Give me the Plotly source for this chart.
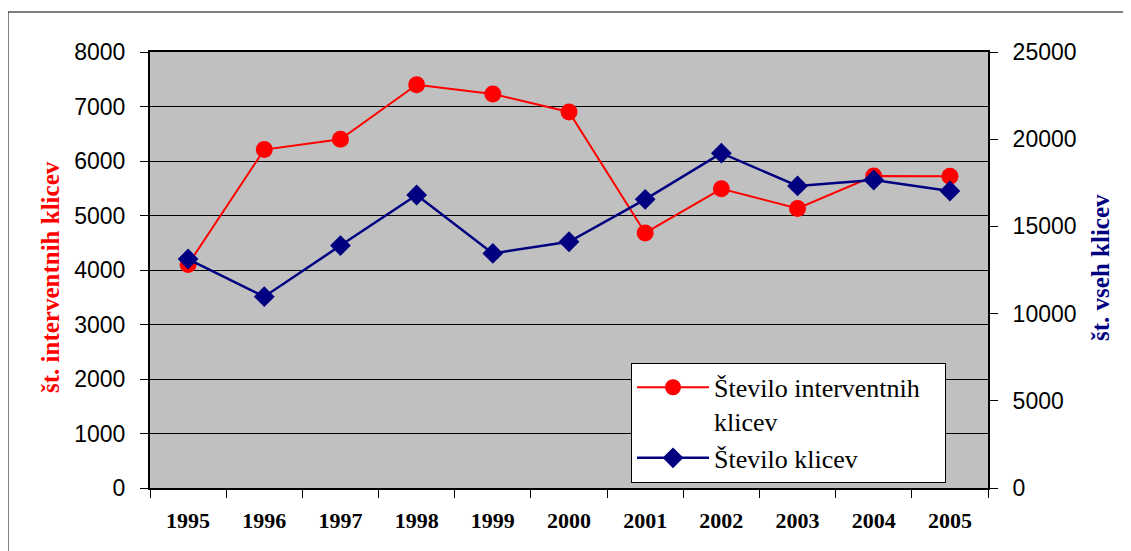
import plotly.graph_objects as go

years = ["1995", "1996", "1997", "1998", "1999", "2000", "2001", "2002", "2003", "2004", "2005"]
interventni = [4100, 6210, 6400, 7400, 7230, 6900, 4680, 5490, 5130, 5725, 5720]
vsi_klici = [13130, 10970, 13900, 16800, 13450, 14120, 16550, 19200, 17320, 17660, 17030]

name_int = "Število interventnih&nbsp;&nbsp;&nbsp;<br>klicev"
name_all = "Število klicev"

fig = go.Figure()
fig.add_trace(go.Scatter(
    x=years, y=interventni, name=name_int, mode="lines+markers",
    line=dict(color="#ff0000", width=2),
    marker=dict(symbol="circle", size=17, color="#ff0000"),
    yaxis="y"))
fig.add_trace(go.Scatter(
    x=years, y=vsi_klici, name=name_all, mode="lines+markers",
    line=dict(color="#000080", width=2.5),
    marker=dict(symbol="diamond", size=16, color="#000080"),
    yaxis="y2"))

# the page adds an 8px body margin; plot area on screen: x 150..988, y 52..488
fig.update_layout(
    width=1131, height=551,
    margin=dict(l=142, r=151, t=44, b=71),
    paper_bgcolor="white", plot_bgcolor="#c0c0c0",
    showlegend=True,
    legend=dict(x=0.574, y=0.287, xanchor="left", yanchor="top",
                bgcolor="white", bordercolor="black", borderwidth=1,
                font=dict(family="Liberation Serif", size=26, color="black"),
                itemwidth=72, tracegroupgap=0, valign="top"),
    xaxis=dict(type="category", range=[-0.5, 10.5], tickson="boundaries",
               ticks="outside", ticklen=8,
               tickcolor="black", showline=True, linecolor="black", linewidth=2,
               mirror=True, showgrid=False, ticklabelstandoff=12,
               tickfont=dict(family="Liberation Serif", size=22, color="black", weight="bold")),
    yaxis=dict(range=[0, 8000], dtick=1000, ticks="outside", ticklen=8, tickcolor="black",
               showgrid=True, gridcolor="black", gridwidth=1, ticklabelstandoff=10,
               showline=True, linecolor="black", linewidth=2, zeroline=False,
               tickformat="d",
               tickfont=dict(family="Liberation Sans", size=23, color="black")),
    yaxis2=dict(range=[0, 25000], dtick=5000, overlaying="y", side="right",
                ticks="outside", ticklen=8, tickcolor="black", showgrid=False,
                showline=True, linecolor="black", linewidth=2, zeroline=False,
                tickformat="d", ticklabelstandoff=10,
                tickfont=dict(family="Liberation Sans", size=23, color="black")),
    annotations=[
        dict(text="<b>št. interventnih klicev</b>", x=50, y=277, xref="paper", yref="paper",
             xanchor="center", yanchor="middle",
             showarrow=False, textangle=-90,
             font=dict(family="Liberation Serif", size=25, color="#ff0000")),
        dict(text="<b>št. vseh klicev</b>", x=1100, y=268, xref="paper", yref="paper",
             xanchor="center", yanchor="middle",
             showarrow=False, textangle=-90,
             font=dict(family="Liberation Serif", size=25, color="#000080")),
    ],
)

# convert screen pixel positions of annotations into paper coords
pl, pr, pt, pb = 150, 988, 52, 488
for a in fig.layout.annotations:
    a.x = (a.x - pl) / (pr - pl)
    a.y = (pb - a.y) / (pb - pt)

# outer chart border
fig.add_shape(type="rect", xref="paper", yref="paper",
              x0=(8 - pl) / (pr - pl), x1=(1160 - pl) / (pr - pl),
              y0=(pb - 580) / (pb - pt), y1=(pb - 12) / (pb - pt),
              line=dict(color="black", width=1), fillcolor="rgba(0,0,0,0)", layer="below")

fig.write_html("out.html")
